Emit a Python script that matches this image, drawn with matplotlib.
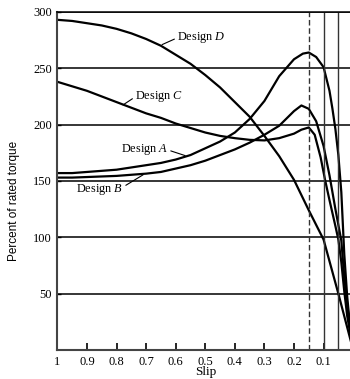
import matplotlib
matplotlib.use('Agg')
import matplotlib.pyplot as plt

plt.rcParams['font.family'] = ['Liberation Serif', 'DejaVu Serif']
plt.rcParams['mathtext.fontset'] = 'custom'
plt.rcParams['mathtext.rm'] = 'Liberation Serif'
plt.rcParams['mathtext.it'] = 'Liberation Serif:italic'

# torque-slip curves (slip, percent of rated torque)
slip_a = [1.0, 0.95, 0.9, 0.85, 0.8, 0.75, 0.7, 0.65, 0.6, 0.55, 0.5, 0.45, 0.4,
          0.35, 0.3, 0.25, 0.2, 0.17, 0.15, 0.125, 0.1, 0.08, 0.07, 0.06, 0.05,
          0.04, 0.03, 0.02, 0.01, 0.0]
torque_a = [157, 157, 158, 159, 160, 162, 164, 166, 169, 173, 179, 185, 193,
            205, 221, 243, 258, 263, 264, 260, 251, 230, 214, 196, 173,
            140, 85, 47, 20, 0]

slip_b = [1.0, 0.95, 0.9, 0.85, 0.8, 0.75, 0.7, 0.65, 0.6, 0.55, 0.5, 0.45, 0.4,
          0.35, 0.3, 0.25, 0.2, 0.175, 0.15, 0.125, 0.1, 0.08, 0.06, 0.04,
          0.03, 0.02, 0.01, 0.0]
torque_b = [153, 153, 153.5, 154, 154.5, 155.5, 156.5, 158, 161, 164, 168, 173, 178,
            184, 191, 199, 212, 217, 214, 203, 181, 155, 125, 97,
            65, 40, 18, 0]

slip_c = [1.0, 0.95, 0.9, 0.85, 0.8, 0.75, 0.7, 0.65, 0.6, 0.55, 0.5, 0.45, 0.4,
          0.35, 0.3, 0.25, 0.2, 0.175, 0.15, 0.13, 0.11, 0.095, 0.08, 0.06,
          0.05, 0.04, 0.03, 0.02, 0.0]
torque_c = [238, 234, 230, 225, 220, 215, 210, 206, 201, 197, 193, 190, 188,
            186.5, 186, 188, 192, 195.5, 197.5, 191, 171, 151, 133, 110,
            98, 78, 52, 30, 0]

slip_d = [1.0, 0.95, 0.9, 0.85, 0.8, 0.75, 0.7, 0.65, 0.6, 0.55, 0.5, 0.45, 0.4,
          0.35, 0.3, 0.25, 0.2, 0.15, 0.1, 0.05, 0.0]
torque_d = [293, 292, 290, 288, 285, 281, 276, 270, 262, 254, 244, 233, 220,
            207, 190, 172, 151, 124, 98, 50, 0]

x_ticks = [1, 0.9, 0.8, 0.7, 0.6, 0.5, 0.4, 0.3, 0.2, 0.1, 0]
x_tick_labels = ['1', '0.9', '0.8', '0.7', '0.6', '0.5', '0.4', '0.3', '0.2', '0.1', '0']
y_ticks = [50, 100, 150, 200, 250, 300]
dashed_slip = 0.15
solid_slips = [0.1, 0.05]

fig = plt.figure(figsize=(3.5, 3.79), dpi=100)
ax = fig.add_axes([0.164, 0.0765, 0.845, 0.892])

ax.plot(slip_a, torque_a, color='black', linewidth=1.6)
ax.plot(slip_b, torque_b, color='black', linewidth=1.6)
ax.plot(slip_c, torque_c, color='black', linewidth=1.6)
ax.plot(slip_d, torque_d, color='black', linewidth=1.6)

ax.axvline(dashed_slip, color='#333333', linewidth=1.0, linestyle=(0, (4, 2)))
for s in solid_slips:
    ax.axvline(s, color='#333333', linewidth=1.0)

ax.set_xlim(1, 0)
ax.set_ylim(0, 300)
ax.set_xticks(x_ticks)
ax.set_xticklabels(x_tick_labels)
ax.set_yticks(y_ticks)
ax.tick_params(axis='x', direction='in', length=5, width=1.2, labelsize=9, pad=4)
ax.tick_params(axis='y', direction='in', length=3, width=1.0, labelsize=9, pad=4)
ax.grid(axis='y', color='black', linewidth=1.1)

for side in ['left', 'bottom']:
    ax.spines[side].set_color('#444444')
    ax.spines[side].set_linewidth(1.5)
ax.spines['top'].set_linewidth(1.1)
ax.spines['right'].set_linewidth(1.1)

ax.set_xlabel('Slip', fontsize=9.5, labelpad=-1)
ax.set_ylabel('Percent of rated torque', fontsize=8.5,
              family=['Liberation Sans', 'DejaVu Sans'], labelpad=6)
ax.yaxis.set_label_coords(-0.125, 0.44)

line = dict(arrowstyle='-', color='black', linewidth=0.8, shrinkA=0, shrinkB=0)
ax.annotate('Design $\\it{D}$', xy=(0.646, 271), xytext=(0.595, 277),
            fontsize=8.8, ha='left', va='center',
            arrowprops=dict(line, relpos=(0, 0.5)))
ax.annotate('Design $\\it{C}$', xy=(0.778, 217.5), xytext=(0.737, 224.6),
            fontsize=8.8, ha='left', va='center',
            arrowprops=dict(line, relpos=(0, 0.5)))
ax.annotate('Design $\\it{A}$', xy=(0.568, 172.5), xytext=(0.626, 177.5),
            fontsize=8.8, ha='right', va='center',
            arrowprops=dict(line, relpos=(1, 0.5)))
ax.annotate('Design $\\it{B}$', xy=(0.71, 155.5), xytext=(0.778, 142),
            fontsize=8.8, ha='right', va='center',
            arrowprops=dict(line, relpos=(1, 0.7)))

plt.savefig('out.png', dpi=100)
